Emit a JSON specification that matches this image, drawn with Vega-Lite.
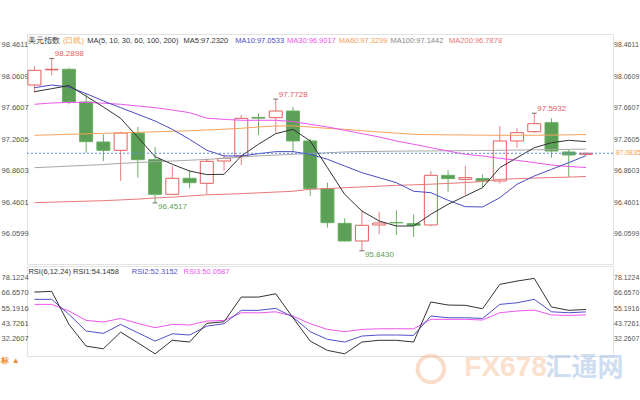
{
  "$schema": "https://vega.github.io/schema/vega-lite/v6.json",
  "background": "#ffffff",
  "padding": {"left": 0, "top": 33, "right": 0, "bottom": 0},
  "spacing": 0,
  "config": {
    "view": {"stroke": "#e2e2e2"},
    "axis": {"labelFont": "Liberation Sans", "labelFontSize": 7.5, "labelColor": "#555555", "ticks": false, "domain": false, "grid": false},
    "text": {"font": "Liberation Sans", "fontSize": 7.5}
  },
  "datasets": {
    "k": [
      {"d":"2019-05-29","o":97.952,"h":98.194,"l":97.854,"c":98.139,"ma5":97.867,"ma10":97.918,"ma30":97.707,"ma60":97.312,"ma100":96.900,"ma200":96.455,"r1":67.3,"r2":61.8,"r3":58.0},
      {"d":"2019-05-30","o":98.145,"h":98.2898,"l":98.075,"c":98.152,"ma5":97.905,"ma10":97.952,"ma30":97.723,"ma60":97.318,"ma100":96.910,"ma200":96.461,"r1":67.8,"r2":61.8,"r3":58.0},
      {"d":"2019-05-31","o":98.152,"h":98.172,"l":97.706,"c":97.736,"ma5":97.945,"ma10":97.927,"ma30":97.731,"ma60":97.325,"ma100":96.920,"ma200":96.468,"r1":42.9,"r2":50.5,"r3":53.0},
      {"d":"2019-06-03","o":97.736,"h":97.842,"l":97.091,"c":97.231,"ma5":97.810,"ma10":97.842,"ma30":97.731,"ma60":97.330,"ma100":96.930,"ma200":96.474,"r1":26.5,"r2":37.9,"r3":45.9},
      {"d":"2019-06-04","o":97.227,"h":97.325,"l":96.985,"c":97.121,"ma5":97.672,"ma10":97.749,"ma30":97.720,"ma60":97.337,"ma100":96.940,"ma200":96.480,"r1":24.5,"r2":36.1,"r3":44.7},
      {"d":"2019-06-05","o":97.121,"h":97.358,"l":96.731,"c":97.341,"ma5":97.528,"ma10":97.664,"ma30":97.707,"ma60":97.343,"ma100":96.955,"ma200":96.490,"r1":37.1,"r2":42.9,"r3":47.4},
      {"d":"2019-06-06","o":97.341,"h":97.418,"l":96.773,"c":97.002,"ma5":97.287,"ma10":97.579,"ma30":97.685,"ma60":97.350,"ma100":96.965,"ma200":96.500,"r1":29.0,"r2":36.6,"r3":43.7},
      {"d":"2019-06-07","o":97.002,"h":97.163,"l":96.4517,"c":96.561,"ma5":97.040,"ma10":97.494,"ma30":97.664,"ma60":97.356,"ma100":96.975,"ma200":96.515,"r1":20.7,"r2":30.3,"r3":40.4},
      {"d":"2019-06-10","o":96.561,"h":96.921,"l":96.553,"c":96.765,"ma5":96.943,"ma10":97.388,"ma30":97.634,"ma60":97.363,"ma100":96.985,"ma200":96.525,"r1":30.9,"r2":35.8,"r3":42.9},
      {"d":"2019-06-11","o":96.765,"h":96.867,"l":96.638,"c":96.709,"ma5":96.858,"ma10":97.261,"ma30":97.600,"ma60":97.370,"ma100":96.995,"ma200":96.540,"r1":29.6,"r2":34.9,"r3":42.4},
      {"d":"2019-06-12","o":96.701,"h":97.019,"l":96.561,"c":96.981,"ma5":96.812,"ma10":97.122,"ma30":97.530,"ma60":97.380,"ma100":97.005,"ma200":96.555,"r1":43.7,"r2":41.6,"r3":45.4},
      {"d":"2019-06-13","o":96.985,"h":97.070,"l":96.858,"c":97.019,"ma5":96.816,"ma10":97.049,"ma30":97.515,"ma60":97.390,"ma100":97.020,"ma200":96.562,"r1":44.9,"r2":43.4,"r3":45.9},
      {"d":"2019-06-14","o":97.049,"h":97.570,"l":96.934,"c":97.528,"ma5":97.049,"ma10":97.049,"ma30":97.503,"ma60":97.401,"ma100":97.035,"ma200":96.570,"r1":63.5,"r2":53.5,"r3":51.7},
      {"d":"2019-06-17","o":97.540,"h":97.587,"l":97.316,"c":97.530,"ma5":97.198,"ma10":97.078,"ma30":97.503,"ma60":97.418,"ma100":97.050,"ma200":96.580,"r1":63.5,"r2":53.5,"r3":51.6},
      {"d":"2019-06-18","o":97.536,"h":97.7728,"l":97.345,"c":97.621,"ma5":97.333,"ma10":97.104,"ma30":97.503,"ma60":97.431,"ma100":97.060,"ma200":96.590,"r1":66.0,"r2":55.0,"r3":52.4},
      {"d":"2019-06-19","o":97.621,"h":97.672,"l":97.100,"c":97.240,"ma5":97.388,"ma10":97.104,"ma30":97.486,"ma60":97.431,"ma100":97.070,"ma200":96.600,"r1":47.9,"r2":48.4,"r3":49.2},
      {"d":"2019-06-20","o":97.240,"h":97.269,"l":96.540,"c":96.633,"ma5":97.240,"ma10":97.070,"ma30":97.452,"ma60":97.418,"ma100":97.080,"ma200":96.625,"r1":30.3,"r2":37.4,"r3":43.4},
      {"d":"2019-06-21","o":96.633,"h":96.709,"l":96.137,"c":96.200,"ma5":96.900,"ma10":97.007,"ma30":97.418,"ma60":97.400,"ma100":97.090,"ma200":96.635,"r1":23.3,"r2":31.6,"r3":39.1},
      {"d":"2019-06-24","o":96.192,"h":96.256,"l":95.958,"c":95.967,"ma5":96.561,"ma10":96.922,"ma30":97.376,"ma60":97.388,"ma100":97.100,"ma200":96.645,"r1":20.7,"r2":29.6,"r3":37.4},
      {"d":"2019-06-25","o":95.967,"h":96.358,"l":95.843,"c":96.167,"ma5":96.349,"ma10":96.836,"ma30":97.333,"ma60":97.370,"ma100":97.105,"ma200":96.655,"r1":29.6,"r2":34.1,"r3":39.1},
      {"d":"2019-06-26","o":96.171,"h":96.340,"l":96.053,"c":96.196,"ma5":96.222,"ma10":96.773,"ma30":97.291,"ma60":97.355,"ma100":97.108,"ma200":96.665,"r1":30.9,"r2":34.9,"r3":39.6},
      {"d":"2019-06-27","o":96.202,"h":96.358,"l":96.044,"c":96.198,"ma5":96.158,"ma10":96.709,"ma30":97.240,"ma60":97.340,"ma100":97.110,"ma200":96.675,"r1":30.9,"r2":34.9,"r3":39.6},
      {"d":"2019-06-28","o":96.188,"h":96.307,"l":96.018,"c":96.167,"ma5":96.158,"ma10":96.600,"ma30":97.198,"ma60":97.325,"ma100":97.112,"ma200":96.682,"r1":29.6,"r2":34.6,"r3":39.6},
      {"d":"2019-07-01","o":96.171,"h":96.858,"l":96.154,"c":96.803,"ma5":96.307,"ma10":96.582,"ma30":97.154,"ma60":97.320,"ma100":97.113,"ma200":96.690,"r1":59.8,"r2":49.2,"r3":46.7},
      {"d":"2019-07-02","o":96.803,"h":96.867,"l":96.595,"c":96.761,"ma5":96.434,"ma10":96.485,"ma30":97.112,"ma60":97.318,"ma100":97.115,"ma200":96.700,"r1":57.5,"r2":47.9,"r3":46.7},
      {"d":"2019-07-03","o":96.752,"h":96.922,"l":96.553,"c":96.773,"ma5":96.540,"ma10":96.404,"ma30":97.070,"ma60":97.316,"ma100":97.117,"ma200":96.710,"r1":57.3,"r2":47.9,"r3":46.7},
      {"d":"2019-07-04","o":96.761,"h":96.816,"l":96.646,"c":96.731,"ma5":96.646,"ma10":96.400,"ma30":97.049,"ma60":97.314,"ma100":97.119,"ma200":96.725,"r1":54.7,"r2":47.4,"r3":46.2},
      {"d":"2019-07-05","o":96.731,"h":97.431,"l":96.697,"c":97.240,"ma5":96.900,"ma10":96.518,"ma30":97.019,"ma60":97.312,"ma100":97.121,"ma200":96.752,"r1":73.1,"r2":58.0,"r3":51.7},
      {"d":"2019-07-08","o":97.240,"h":97.401,"l":97.154,"c":97.345,"ma5":97.027,"ma10":96.689,"ma30":96.994,"ma60":97.312,"ma100":97.124,"ma200":96.760,"r1":75.6,"r2":59.2,"r3":53.0},
      {"d":"2019-07-09","o":97.358,"h":97.5932,"l":97.345,"c":97.460,"ma5":97.154,"ma10":96.794,"ma30":96.964,"ma60":97.313,"ma100":97.127,"ma200":96.768,"r1":77.6,"r2":61.8,"r3":53.7},
      {"d":"2019-07-10","o":97.473,"h":97.528,"l":97.027,"c":97.112,"ma5":97.218,"ma10":96.879,"ma30":96.934,"ma60":97.315,"ma100":97.130,"ma200":96.775,"r1":56.0,"r2":52.4,"r3":50.0},
      {"d":"2019-07-11","o":97.100,"h":97.134,"l":96.782,"c":97.062,"ma5":97.248,"ma10":96.964,"ma30":96.915,"ma60":97.318,"ma100":97.133,"ma200":96.780,"r1":53.5,"r2":51.7,"r3":49.7},
      {"d":"2019-07-12","o":97.070,"h":97.095,"l":97.055,"c":97.0835,"ma5":97.232,"ma10":97.053,"ma30":96.902,"ma60":97.322,"ma100":97.136,"ma200":96.788,"r1":54.15,"r2":52.32,"r3":50.06}
    ],
    "ann": [
      {"d":"2019-05-30","p":98.2898,"t":"98.2898","hl":"h"},
      {"d":"2019-06-18","p":97.7728,"t":"97.7728","hl":"h"},
      {"d":"2019-07-09","p":97.5932,"t":"97.5932","hl":"h"},
      {"d":"2019-06-07","p":96.4517,"t":"96.4517","hl":"l"},
      {"d":"2019-06-25","p":95.843,"t":"95.8430","hl":"l"}
    ],
    "leg": [
      {"d":"2019-05-29","p":98.512,"t":"美元指数","k":"name","g":"a"},
      {"d":"2019-05-31","p":98.512,"t":"(日线)","k":"period","g":"a"},
      {"d":"2019-06-03","p":98.512,"t":"MA(5, 10, 30, 60, 100, 200)","k":"params","g":"b"},
      {"d":"2019-06-11","p":98.512,"t":"MA5:97.2320","k":"ma5","g":"a"},
      {"d":"2019-06-14","p":98.512,"t":"MA10:97.0533","k":"ma10","g":"a"},
      {"d":"2019-06-19","p":98.512,"t":"MA30:96.9017","k":"ma30","g":"a"},
      {"d":"2019-06-24","p":98.512,"t":"MA60:97.3299","k":"ma60","g":"a"},
      {"d":"2019-06-27","p":98.512,"t":"MA100:97.1442","k":"ma100","g":"a"},
      {"d":"2019-07-02","p":98.512,"t":"MA200:96.7878","k":"ma200","g":"b"}
    ],
    "last": [{"d":"2019-07-12","p":97.0835,"t":"97.0835"}],
    "rleg": [
      {"d":"2019-05-29","v":82.4,"t":"RSI(6,12,24) RSI1:54.1458","k":"rsi1"},
      {"d":"2019-06-06","v":82.4,"t":"RSI2:52.3152","k":"rsi2"},
      {"d":"2019-06-11","v":82.4,"t":"RSI3:50.0587","k":"rsi3"}
    ],
    "misc": [
      {"d":"2019-05-29","v":15.3,"t":"标 ▲","k":"ind"},
      {"d":"2019-07-03","v":10.0,"t":"FX678","k":"wm1"},
      {"d":"2019-07-10","v":10.0,"t":"汇通网","k":"wm2"},
      {"d":"2019-07-01","v":9.25,"t":"","k":"logo"}
    ]
  },
  "resolve": {"scale": {"color": "independent"}},
  "vconcat": [
    {
      "width": 586,
      "height": 230,
      "resolve": {"scale": {"color": "independent"}},
      "layer": [
        {
          "data": {"name": "k"},
          "mark": {"type": "rule", "strokeWidth": 1},
          "encoding": {
            "x": {"field":"d","type":"ordinal","sort":null,"axis":null,"scale":{"type":"point","padding":1.0786,"align":0.216,"domain":["2019-05-29","2019-05-30","2019-05-31","2019-06-03","2019-06-04","2019-06-05","2019-06-06","2019-06-07","2019-06-10","2019-06-11","2019-06-12","2019-06-13","2019-06-14","2019-06-17","2019-06-18","2019-06-19","2019-06-20","2019-06-21","2019-06-24","2019-06-25","2019-06-26","2019-06-27","2019-06-28","2019-07-01","2019-07-02","2019-07-03","2019-07-04","2019-07-05","2019-07-08","2019-07-09","2019-07-10","2019-07-11","2019-07-12"]}},
            "y": {"field":"l","type":"quantitative","scale":{"domain":[95.6745,98.601],"zero":false,"nice":false},"axis":{"orient":"left","title":null,"values":[96.0599,96.4601,96.8603,97.2605,97.6607,98.0609,98.4611],"labelExpr":"format(datum.value, '.4f')","labelAlign":"left","minExtent":26,"maxExtent":26,"labelPadding":26}},
            "y2": {"field":"h"},
            "color": {"condition": {"test":"datum.c >= datum.o","value":"#ec8080"},"value":"#6aaf64"}
          }
        },
        {
          "data": {"name": "k"},
          "mark": {"type": "bar", "width": 13, "strokeWidth": 1},
          "encoding": {
            "x": {"field":"d","type":"ordinal","sort":null,"axis":null,"scale":{"type":"point","padding":1.0786,"align":0.216,"domain":["2019-05-29","2019-05-30","2019-05-31","2019-06-03","2019-06-04","2019-06-05","2019-06-06","2019-06-07","2019-06-10","2019-06-11","2019-06-12","2019-06-13","2019-06-14","2019-06-17","2019-06-18","2019-06-19","2019-06-20","2019-06-21","2019-06-24","2019-06-25","2019-06-26","2019-06-27","2019-06-28","2019-07-01","2019-07-02","2019-07-03","2019-07-04","2019-07-05","2019-07-08","2019-07-09","2019-07-10","2019-07-11","2019-07-12"]}},
            "y": {"field":"o","type":"quantitative","scale":{"domain":[95.6745,98.601],"zero":false,"nice":false},"axis":null},
            "y2": {"field":"c"},
            "fill": {"condition": {"test":"datum.c >= datum.o","value":"#ffffff"},"value":"#5c9f56"},
            "stroke": {"condition": {"test":"datum.c >= datum.o","value":"#e25e5e"},"value":"#6aaf64"}
          }
        },
        {
          "data": {"name": "k"},
          "transform": [{"fold": ["ma200","ma100","ma60","ma30","ma10","ma5"], "as": ["mk","mv"]}],
          "mark": {"type": "line", "strokeWidth": 1},
          "encoding": {
            "x": {"field":"d","type":"ordinal","sort":null,"axis":null,"scale":{"type":"point","padding":1.0786,"align":0.216,"domain":["2019-05-29","2019-05-30","2019-05-31","2019-06-03","2019-06-04","2019-06-05","2019-06-06","2019-06-07","2019-06-10","2019-06-11","2019-06-12","2019-06-13","2019-06-14","2019-06-17","2019-06-18","2019-06-19","2019-06-20","2019-06-21","2019-06-24","2019-06-25","2019-06-26","2019-06-27","2019-06-28","2019-07-01","2019-07-02","2019-07-03","2019-07-04","2019-07-05","2019-07-08","2019-07-09","2019-07-10","2019-07-11","2019-07-12"]}},
            "y": {"field":"mv","type":"quantitative","scale":{"domain":[95.6745,98.601],"zero":false,"nice":false},"axis":null},
            "color": {"field":"mk","type":"nominal","legend":null,"scale":{"domain":["ma5","ma10","ma30","ma60","ma100","ma200"],"range":["#333333","#4b4bc3","#ee55ee","#f7a35c","#a8a8a8","#e87878"]}}
          }
        },
        {
          "data": {"name": "last"},
          "mark": {"type": "rule", "stroke": "#5b8ee0", "strokeDash": [2, 2], "strokeWidth": 1},
          "encoding": {
            "y": {"field":"p","type":"quantitative","scale":{"domain":[95.6745,98.601],"zero":false,"nice":false},"axis":null}
          }
        },
        {
          "data": {"name": "ann"},
          "mark": {"type": "tick", "orient": "horizontal", "size": 5, "thickness": 1, "color": "#333333"},
          "encoding": {
            "x": {"field":"d","type":"ordinal","sort":null,"axis":null,"scale":{"type":"point","padding":1.0786,"align":0.216,"domain":["2019-05-29","2019-05-30","2019-05-31","2019-06-03","2019-06-04","2019-06-05","2019-06-06","2019-06-07","2019-06-10","2019-06-11","2019-06-12","2019-06-13","2019-06-14","2019-06-17","2019-06-18","2019-06-19","2019-06-20","2019-06-21","2019-06-24","2019-06-25","2019-06-26","2019-06-27","2019-06-28","2019-07-01","2019-07-02","2019-07-03","2019-07-04","2019-07-05","2019-07-08","2019-07-09","2019-07-10","2019-07-11","2019-07-12"]}},
            "y": {"field":"p","type":"quantitative","scale":{"domain":[95.6745,98.601],"zero":false,"nice":false},"axis":null}
          }
        },
        {
          "data": {"name": "ann"},
          "transform": [{"filter": "datum.hl == 'h'"}],
          "mark": {"type": "text", "align": "left", "baseline": "middle", "dx": 3, "dy": -4, "fontSize": 8, "color": "#e05a5a"},
          "encoding": {
            "x": {"field":"d","type":"ordinal","sort":null,"axis":null,"scale":{"type":"point","padding":1.0786,"align":0.216,"domain":["2019-05-29","2019-05-30","2019-05-31","2019-06-03","2019-06-04","2019-06-05","2019-06-06","2019-06-07","2019-06-10","2019-06-11","2019-06-12","2019-06-13","2019-06-14","2019-06-17","2019-06-18","2019-06-19","2019-06-20","2019-06-21","2019-06-24","2019-06-25","2019-06-26","2019-06-27","2019-06-28","2019-07-01","2019-07-02","2019-07-03","2019-07-04","2019-07-05","2019-07-08","2019-07-09","2019-07-10","2019-07-11","2019-07-12"]}},
            "y": {"field":"p","type":"quantitative","scale":{"domain":[95.6745,98.601],"zero":false,"nice":false},"axis":null},
            "text": {"field":"t"}
          }
        },
        {
          "data": {"name": "ann"},
          "transform": [{"filter": "datum.hl == 'l'"}],
          "mark": {"type": "text", "align": "left", "baseline": "middle", "dx": 3, "dy": 4, "fontSize": 8, "color": "#5c9f56"},
          "encoding": {
            "x": {"field":"d","type":"ordinal","sort":null,"axis":null,"scale":{"type":"point","padding":1.0786,"align":0.216,"domain":["2019-05-29","2019-05-30","2019-05-31","2019-06-03","2019-06-04","2019-06-05","2019-06-06","2019-06-07","2019-06-10","2019-06-11","2019-06-12","2019-06-13","2019-06-14","2019-06-17","2019-06-18","2019-06-19","2019-06-20","2019-06-21","2019-06-24","2019-06-25","2019-06-26","2019-06-27","2019-06-28","2019-07-01","2019-07-02","2019-07-03","2019-07-04","2019-07-05","2019-07-08","2019-07-09","2019-07-10","2019-07-11","2019-07-12"]}},
            "y": {"field":"p","type":"quantitative","scale":{"domain":[95.6745,98.601],"zero":false,"nice":false},"axis":null},
            "text": {"field":"t"}
          }
        },
        {
          "data": {"name": "leg"},
          "transform": [{"filter": "datum.g == 'a'"}],
          "mark": {"type": "text", "align": "left", "baseline": "middle", "dx": -6},
          "encoding": {
            "x": {"field":"d","type":"ordinal","sort":null,"axis":null,"scale":{"type":"point","padding":1.0786,"align":0.216,"domain":["2019-05-29","2019-05-30","2019-05-31","2019-06-03","2019-06-04","2019-06-05","2019-06-06","2019-06-07","2019-06-10","2019-06-11","2019-06-12","2019-06-13","2019-06-14","2019-06-17","2019-06-18","2019-06-19","2019-06-20","2019-06-21","2019-06-24","2019-06-25","2019-06-26","2019-06-27","2019-06-28","2019-07-01","2019-07-02","2019-07-03","2019-07-04","2019-07-05","2019-07-08","2019-07-09","2019-07-10","2019-07-11","2019-07-12"]}},
            "y": {"field":"p","type":"quantitative","scale":{"domain":[95.6745,98.601],"zero":false,"nice":false},"axis":{"orient":"right","title":null,"values":[96.0599,96.4601,96.8603,97.2605,97.6607,98.0609,98.4611],"labelExpr":"format(datum.value, '.4f')","labelFontSize":7,"minExtent":26,"maxExtent":26,"labelPadding":0.5}},
            "text": {"field":"t"},
            "color": {"field":"k","type":"nominal","legend":null,"scale":{"domain":["name","period","params","ma5","ma10","ma30","ma60","ma100","ma200"],"range":["#333333","#f5a040","#333333","#333333","#4b4bc3","#ee55ee","#f5a05a","#888888","#e87878"]}}
          }
        },
        {
          "data": {"name": "leg"},
          "transform": [{"filter": "datum.g == 'b'"}],
          "mark": {"type": "text", "align": "left", "baseline": "middle", "dx": 1},
          "encoding": {
            "x": {"field":"d","type":"ordinal","sort":null,"axis":null,"scale":{"type":"point","padding":1.0786,"align":0.216,"domain":["2019-05-29","2019-05-30","2019-05-31","2019-06-03","2019-06-04","2019-06-05","2019-06-06","2019-06-07","2019-06-10","2019-06-11","2019-06-12","2019-06-13","2019-06-14","2019-06-17","2019-06-18","2019-06-19","2019-06-20","2019-06-21","2019-06-24","2019-06-25","2019-06-26","2019-06-27","2019-06-28","2019-07-01","2019-07-02","2019-07-03","2019-07-04","2019-07-05","2019-07-08","2019-07-09","2019-07-10","2019-07-11","2019-07-12"]}},
            "y": {"field":"p","type":"quantitative","scale":{"domain":[95.6745,98.601],"zero":false,"nice":false},"axis":null},
            "text": {"field":"t"},
            "color": {"field":"k","type":"nominal","legend":null,"scale":{"domain":["name","period","params","ma5","ma10","ma30","ma60","ma100","ma200"],"range":["#333333","#f5a040","#333333","#333333","#4b4bc3","#ee55ee","#f5a05a","#888888","#e87878"]}}
          }
        },
        {
          "data": {"name": "last"},
          "mark": {"type": "text", "align": "left", "baseline": "middle", "dx": 29.5, "fontSize": 7, "color": "#f39c3c"},
          "encoding": {
            "x": {"field":"d","type":"ordinal","sort":null,"axis":null,"scale":{"type":"point","padding":1.0786,"align":0.216,"domain":["2019-05-29","2019-05-30","2019-05-31","2019-06-03","2019-06-04","2019-06-05","2019-06-06","2019-06-07","2019-06-10","2019-06-11","2019-06-12","2019-06-13","2019-06-14","2019-06-17","2019-06-18","2019-06-19","2019-06-20","2019-06-21","2019-06-24","2019-06-25","2019-06-26","2019-06-27","2019-06-28","2019-07-01","2019-07-02","2019-07-03","2019-07-04","2019-07-05","2019-07-08","2019-07-09","2019-07-10","2019-07-11","2019-07-12"]}},
            "y": {"field":"p","type":"quantitative","scale":{"domain":[95.6745,98.601],"zero":false,"nice":false},"axis":null},
            "text": {"field":"t"}
          }
        }
      ]
    },
    {
      "width": 586,
      "height": 90,
      "resolve": {"scale": {"color": "independent"}},
      "layer": [
        {
          "data": {"name": "k"},
          "transform": [{"fold": ["r3","r2","r1"], "as": ["rk","rv"]}],
          "mark": {"type": "line", "strokeWidth": 1},
          "encoding": {
            "x": {"field":"d","type":"ordinal","sort":null,"scale":{"type":"point","padding":1.0786,"align":0.216,"domain":["2019-05-29","2019-05-30","2019-05-31","2019-06-03","2019-06-04","2019-06-05","2019-06-06","2019-06-07","2019-06-10","2019-06-11","2019-06-12","2019-06-13","2019-06-14","2019-06-17","2019-06-18","2019-06-19","2019-06-20","2019-06-21","2019-06-24","2019-06-25","2019-06-26","2019-06-27","2019-06-28","2019-07-01","2019-07-02","2019-07-03","2019-07-04","2019-07-05","2019-07-08","2019-07-09","2019-07-10","2019-07-11","2019-07-12"]},"axis":{"title":null,"values":["2019-06-03","2019-07-01"],"labelExpr":"replace(slice(datum.value,0,7),'-','/')","labelAlign":"left","labelAngle":0,"labelPadding":3,"labelFontSize":8,"labelColor":"#333333","labelOverlap":false}},
            "y": {"field":"rv","type":"quantitative","scale":{"domain":[19.06,86.95],"zero":false,"nice":false},"axis":{"orient":"left","title":null,"values":[32.2607,43.7261,55.1916,66.657,78.1224],"labelExpr":"format(datum.value, '.4f')","labelAlign":"left","minExtent":26,"maxExtent":26,"labelPadding":26}},
            "color": {"field":"rk","type":"nominal","legend":null,"scale":{"domain":["r1","r2","r3"],"range":["#333333","#5050c8","#ee55ee"]}}
          }
        },
        {
          "data": {"name": "rleg"},
          "mark": {"type": "text", "align": "left", "baseline": "middle", "dx": -6},
          "encoding": {
            "x": {"field":"d","type":"ordinal","sort":null,"axis":null,"scale":{"type":"point","padding":1.0786,"align":0.216,"domain":["2019-05-29","2019-05-30","2019-05-31","2019-06-03","2019-06-04","2019-06-05","2019-06-06","2019-06-07","2019-06-10","2019-06-11","2019-06-12","2019-06-13","2019-06-14","2019-06-17","2019-06-18","2019-06-19","2019-06-20","2019-06-21","2019-06-24","2019-06-25","2019-06-26","2019-06-27","2019-06-28","2019-07-01","2019-07-02","2019-07-03","2019-07-04","2019-07-05","2019-07-08","2019-07-09","2019-07-10","2019-07-11","2019-07-12"]}},
            "y": {"field":"v","type":"quantitative","scale":{"domain":[19.06,86.95],"zero":false,"nice":false},"axis":{"orient":"right","title":null,"values":[32.2607,43.7261,55.1916,66.657,78.1224],"labelExpr":"format(datum.value, '.4f')","labelFontSize":7,"minExtent":26,"maxExtent":26,"labelPadding":0.5}},
            "text": {"field":"t"},
            "color": {"field":"k","type":"nominal","legend":null,"scale":{"domain":["rsi1","rsi2","rsi3"],"range":["#333333","#5050c8","#ee55ee"]}}
          }
        },
        {
          "data": {"name": "misc"},
          "transform": [{"filter": "datum.k == 'ind'"}],
          "mark": {"type": "text", "align": "left", "baseline": "middle", "dx": -33, "fontSize": 8, "fontWeight": "bold", "color": "#f08a2a"},
          "encoding": {
            "x": {"field":"d","type":"ordinal","sort":null,"axis":null,"scale":{"type":"point","padding":1.0786,"align":0.216,"domain":["2019-05-29","2019-05-30","2019-05-31","2019-06-03","2019-06-04","2019-06-05","2019-06-06","2019-06-07","2019-06-10","2019-06-11","2019-06-12","2019-06-13","2019-06-14","2019-06-17","2019-06-18","2019-06-19","2019-06-20","2019-06-21","2019-06-24","2019-06-25","2019-06-26","2019-06-27","2019-06-28","2019-07-01","2019-07-02","2019-07-03","2019-07-04","2019-07-05","2019-07-08","2019-07-09","2019-07-10","2019-07-11","2019-07-12"]}},
            "y": {"field":"v","type":"quantitative","scale":{"domain":[19.06,86.95],"zero":false,"nice":false},"axis":null},
            "text": {"field":"t"}
          }
        },
        {
          "data": {"name": "misc"},
          "transform": [{"filter": "datum.k == 'logo'"}],
          "mark": {"type": "point", "shape": "circle", "size": 700, "filled": false, "strokeWidth": 4, "color": "#f4b28c", "opacity": 0.45},
          "encoding": {
            "x": {"field":"d","type":"ordinal","sort":null,"axis":null,"scale":{"type":"point","padding":1.0786,"align":0.216,"domain":["2019-05-29","2019-05-30","2019-05-31","2019-06-03","2019-06-04","2019-06-05","2019-06-06","2019-06-07","2019-06-10","2019-06-11","2019-06-12","2019-06-13","2019-06-14","2019-06-17","2019-06-18","2019-06-19","2019-06-20","2019-06-21","2019-06-24","2019-06-25","2019-06-26","2019-06-27","2019-06-28","2019-07-01","2019-07-02","2019-07-03","2019-07-04","2019-07-05","2019-07-08","2019-07-09","2019-07-10","2019-07-11","2019-07-12"]}},
            "y": {"field":"v","type":"quantitative","scale":{"domain":[19.06,86.95],"zero":false,"nice":false},"axis":null}
          }
        },
        {
          "data": {"name": "misc"},
          "transform": [{"filter": "datum.k == 'wm1'"}],
          "mark": {"type": "text", "align": "left", "baseline": "middle", "dx": -1, "fontSize": 28, "fontWeight": "bold", "color": "#f8c29a", "opacity": 0.5},
          "encoding": {
            "x": {"field":"d","type":"ordinal","sort":null,"axis":null,"scale":{"type":"point","padding":1.0786,"align":0.216,"domain":["2019-05-29","2019-05-30","2019-05-31","2019-06-03","2019-06-04","2019-06-05","2019-06-06","2019-06-07","2019-06-10","2019-06-11","2019-06-12","2019-06-13","2019-06-14","2019-06-17","2019-06-18","2019-06-19","2019-06-20","2019-06-21","2019-06-24","2019-06-25","2019-06-26","2019-06-27","2019-06-28","2019-07-01","2019-07-02","2019-07-03","2019-07-04","2019-07-05","2019-07-08","2019-07-09","2019-07-10","2019-07-11","2019-07-12"]}},
            "y": {"field":"v","type":"quantitative","scale":{"domain":[19.06,86.95],"zero":false,"nice":false},"axis":null},
            "text": {"field":"t"}
          }
        },
        {
          "data": {"name": "misc"},
          "transform": [{"filter": "datum.k == 'wm2'"}],
          "mark": {"type": "text", "align": "left", "baseline": "middle", "dx": -6, "fontSize": 26, "font": "Noto Sans CJK SC", "fontWeight": "bold", "color": "#a9c2e4", "opacity": 0.55},
          "encoding": {
            "x": {"field":"d","type":"ordinal","sort":null,"axis":null,"scale":{"type":"point","padding":1.0786,"align":0.216,"domain":["2019-05-29","2019-05-30","2019-05-31","2019-06-03","2019-06-04","2019-06-05","2019-06-06","2019-06-07","2019-06-10","2019-06-11","2019-06-12","2019-06-13","2019-06-14","2019-06-17","2019-06-18","2019-06-19","2019-06-20","2019-06-21","2019-06-24","2019-06-25","2019-06-26","2019-06-27","2019-06-28","2019-07-01","2019-07-02","2019-07-03","2019-07-04","2019-07-05","2019-07-08","2019-07-09","2019-07-10","2019-07-11","2019-07-12"]}},
            "y": {"field":"v","type":"quantitative","scale":{"domain":[19.06,86.95],"zero":false,"nice":false},"axis":null},
            "text": {"field":"t"}
          }
        }
      ]
    }
  ]
}
